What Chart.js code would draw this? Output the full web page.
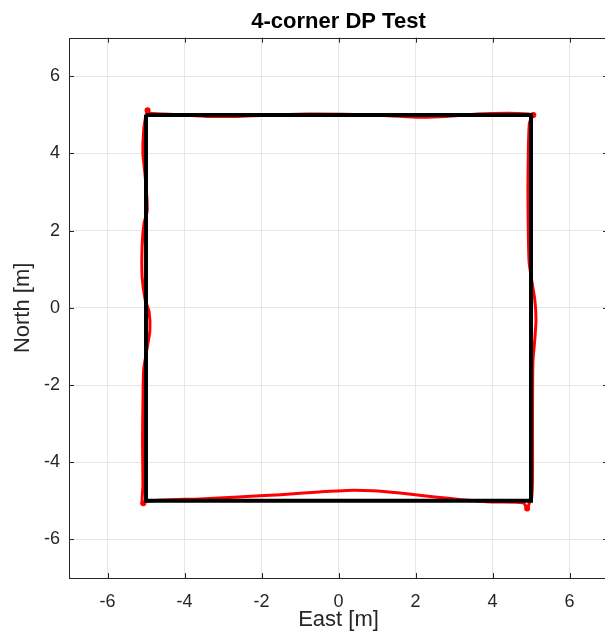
<!DOCTYPE html>
<html>
<head>
<meta charset="utf-8">
<script src="https://cdn.jsdelivr.net/npm/chart.js@4/dist/chart.umd.min.js"></script>
<style>
html,body{margin:0;padding:0;background:#fff;overflow:hidden;}
#wrap{width:605px;height:641px;position:relative;overflow:hidden;}
canvas{display:block;}
</style>
</head>
<body>
<div id="wrap"><canvas id="c" width="612" height="641"></canvas></div>
<script>
// ---- data ----
const titleText = "4-corner DP Test";
const xLabel = "East [m]";
const yLabel = "North [m]";
const tickVals = [-6, -4, -2, 0, 2, 4, 6];
const axisMin = -7, axisMax = 7;

// measured trajectory (red)
const trackE = [
  -4.96,-4.9,-4.2,-3.4,-2.7,-1.9,-0.8,0.4,1.3,2.1,2.8,3.6,4.4,4.95,5.06,
  4.96,4.93,4.92,4.93,4.95,5.02,5.1,5.13,5.1,5.05,5.04,5.04,5.04,5.02,4.96,4.9,
  4.8,4.0,3.2,2.5,1.6,0.9,0.2,-0.5,-1.5,-2.6,-3.6,-4.5,-5.0,-5.1,
  -5.08,-5.09,-5.08,-5.06,-4.98,-4.9,-4.92,-5.02,-5.1,-5.1,-5.05,-4.97,-4.98,-5.03,-5.08,-5.06,-5.0,-4.96
];
const trackN = [
  5.12,5.04,5.01,4.96,4.96,4.99,5.02,5.01,4.98,4.94,4.96,5.02,5.04,5.02,5.0,
  4.8,4.0,3.0,2.0,1.2,0.7,0.2,-0.3,-0.8,-1.4,-2.5,-3.5,-4.4,-4.9,-5.05,-5.2,
  -5.05,-5.03,-4.97,-4.9,-4.8,-4.74,-4.73,-4.77,-4.84,-4.9,-4.95,-4.98,-5.02,-5.08,
  -4.6,-3.5,-2.5,-1.6,-1.1,-0.6,-0.1,0.2,0.8,1.6,2.2,2.5,2.9,3.5,4.0,4.6,5.0,5.12
];
// corner dwell blobs (red)
const dwellE = [-4.96, 5.06, 4.9, -5.07];
const dwellN = [5.12, 5.0, -5.2, -5.06];
// desired square path (black)
const squareE = [-5, 5, 5, -5, -5];
const squareN = [5, 5, -5, -5, 5];

const toPts = (xs, ys) => xs.map((x, i) => ({x: x, y: ys[i]}));

const axisColor = '#262626';
const gridColor = '#e6e6e6';
const fontFam = '"Liberation Sans", Arial, Helvetica, sans-serif';

const boxPlugin = {
  id: 'boxTicks',
  beforeDatasetsDraw(chart) {
    const {ctx, chartArea: a, scales} = chart;
    ctx.save();
    ctx.strokeStyle = axisColor;
    ctx.lineWidth = 1;
    ctx.strokeRect(Math.round(a.left) + 0.5, Math.round(a.top) + 0.5,
                   Math.round(a.right - a.left), Math.round(a.bottom - a.top));
    const L = 5;
    ctx.beginPath();
    tickVals.forEach(v => {
      const px = Math.round(scales.x.getPixelForValue(v)) + 0.5;
      ctx.moveTo(px, a.bottom); ctx.lineTo(px, a.bottom - L);
      ctx.moveTo(px, a.top); ctx.lineTo(px, a.top + L);
      const py = Math.round(scales.y.getPixelForValue(v)) + 0.5;
      ctx.moveTo(a.left, py); ctx.lineTo(a.left + L, py);
      ctx.moveTo(a.right, py); ctx.lineTo(a.right - L, py);
    });
    ctx.stroke();
    ctx.restore();
  }
};

new Chart(document.getElementById('c'), {
  type: 'scatter',
  data: {
    datasets: [
      {
        data: toPts(squareE, squareN),
        showLine: true, borderColor: '#000000', borderWidth: 4,
        pointRadius: 0, tension: 0, order: 0
      },
      {
        data: toPts(trackE, trackN),
        showLine: true, borderColor: '#ff0000', borderWidth: 3,
        pointRadius: 0, tension: 0.2, order: 1
      },
      {
        data: toPts(dwellE, dwellN),
        showLine: false, backgroundColor: '#ff0000', borderColor: '#ff0000',
        pointRadius: 3, pointBorderWidth: 0, order: 2
      }
    ]
  },
  options: {
    responsive: false,
    animation: false,
    events: [],
    layout: {padding: {left: 0, right: 0, top: 0, bottom: 0}},
    plugins: {
      legend: {display: false},
      tooltip: {enabled: false},
      title: {
        display: true, text: titleText, color: '#000', fullSize: false,
        font: {family: fontFam, size: 22, weight: 'bold', lineHeight: 1.2},
        padding: {top: 9, bottom: 2.3}
      }
    },
    scales: {
      x: {
        type: 'linear', min: axisMin, max: axisMax,
        afterBuildTicks: s => { s.ticks = tickVals.map(v => ({value: v})); },
        afterFit: s => { s.height = 63; },
        grid: {color: gridColor, drawTicks: false, lineWidth: 1},
        border: {display: false},
        ticks: {color: axisColor, padding: 13, font: {family: fontFam, size: 18}},
        title: {display: true, text: xLabel, color: axisColor,
                font: {family: fontFam, size: 22, lineHeight: 1.2},
                padding: {top: 0, bottom: 7.8}}
      },
      y: {
        type: 'linear', min: axisMin, max: axisMax,
        afterBuildTicks: s => { s.ticks = tickVals.map(v => ({value: v})); },
        afterFit: s => { s.width = 69; },
        grid: {color: gridColor, drawTicks: false, lineWidth: 1},
        border: {display: false},
        ticks: {color: axisColor, padding: 9, font: {family: fontFam, size: 18}},
        title: {display: true, text: yLabel, color: axisColor,
                font: {family: fontFam, size: 22, lineHeight: 1.2},
                padding: {top: 10, bottom: 0}}
      }
    }
  },
  plugins: [boxPlugin]
});
</script>
</body>
</html>
